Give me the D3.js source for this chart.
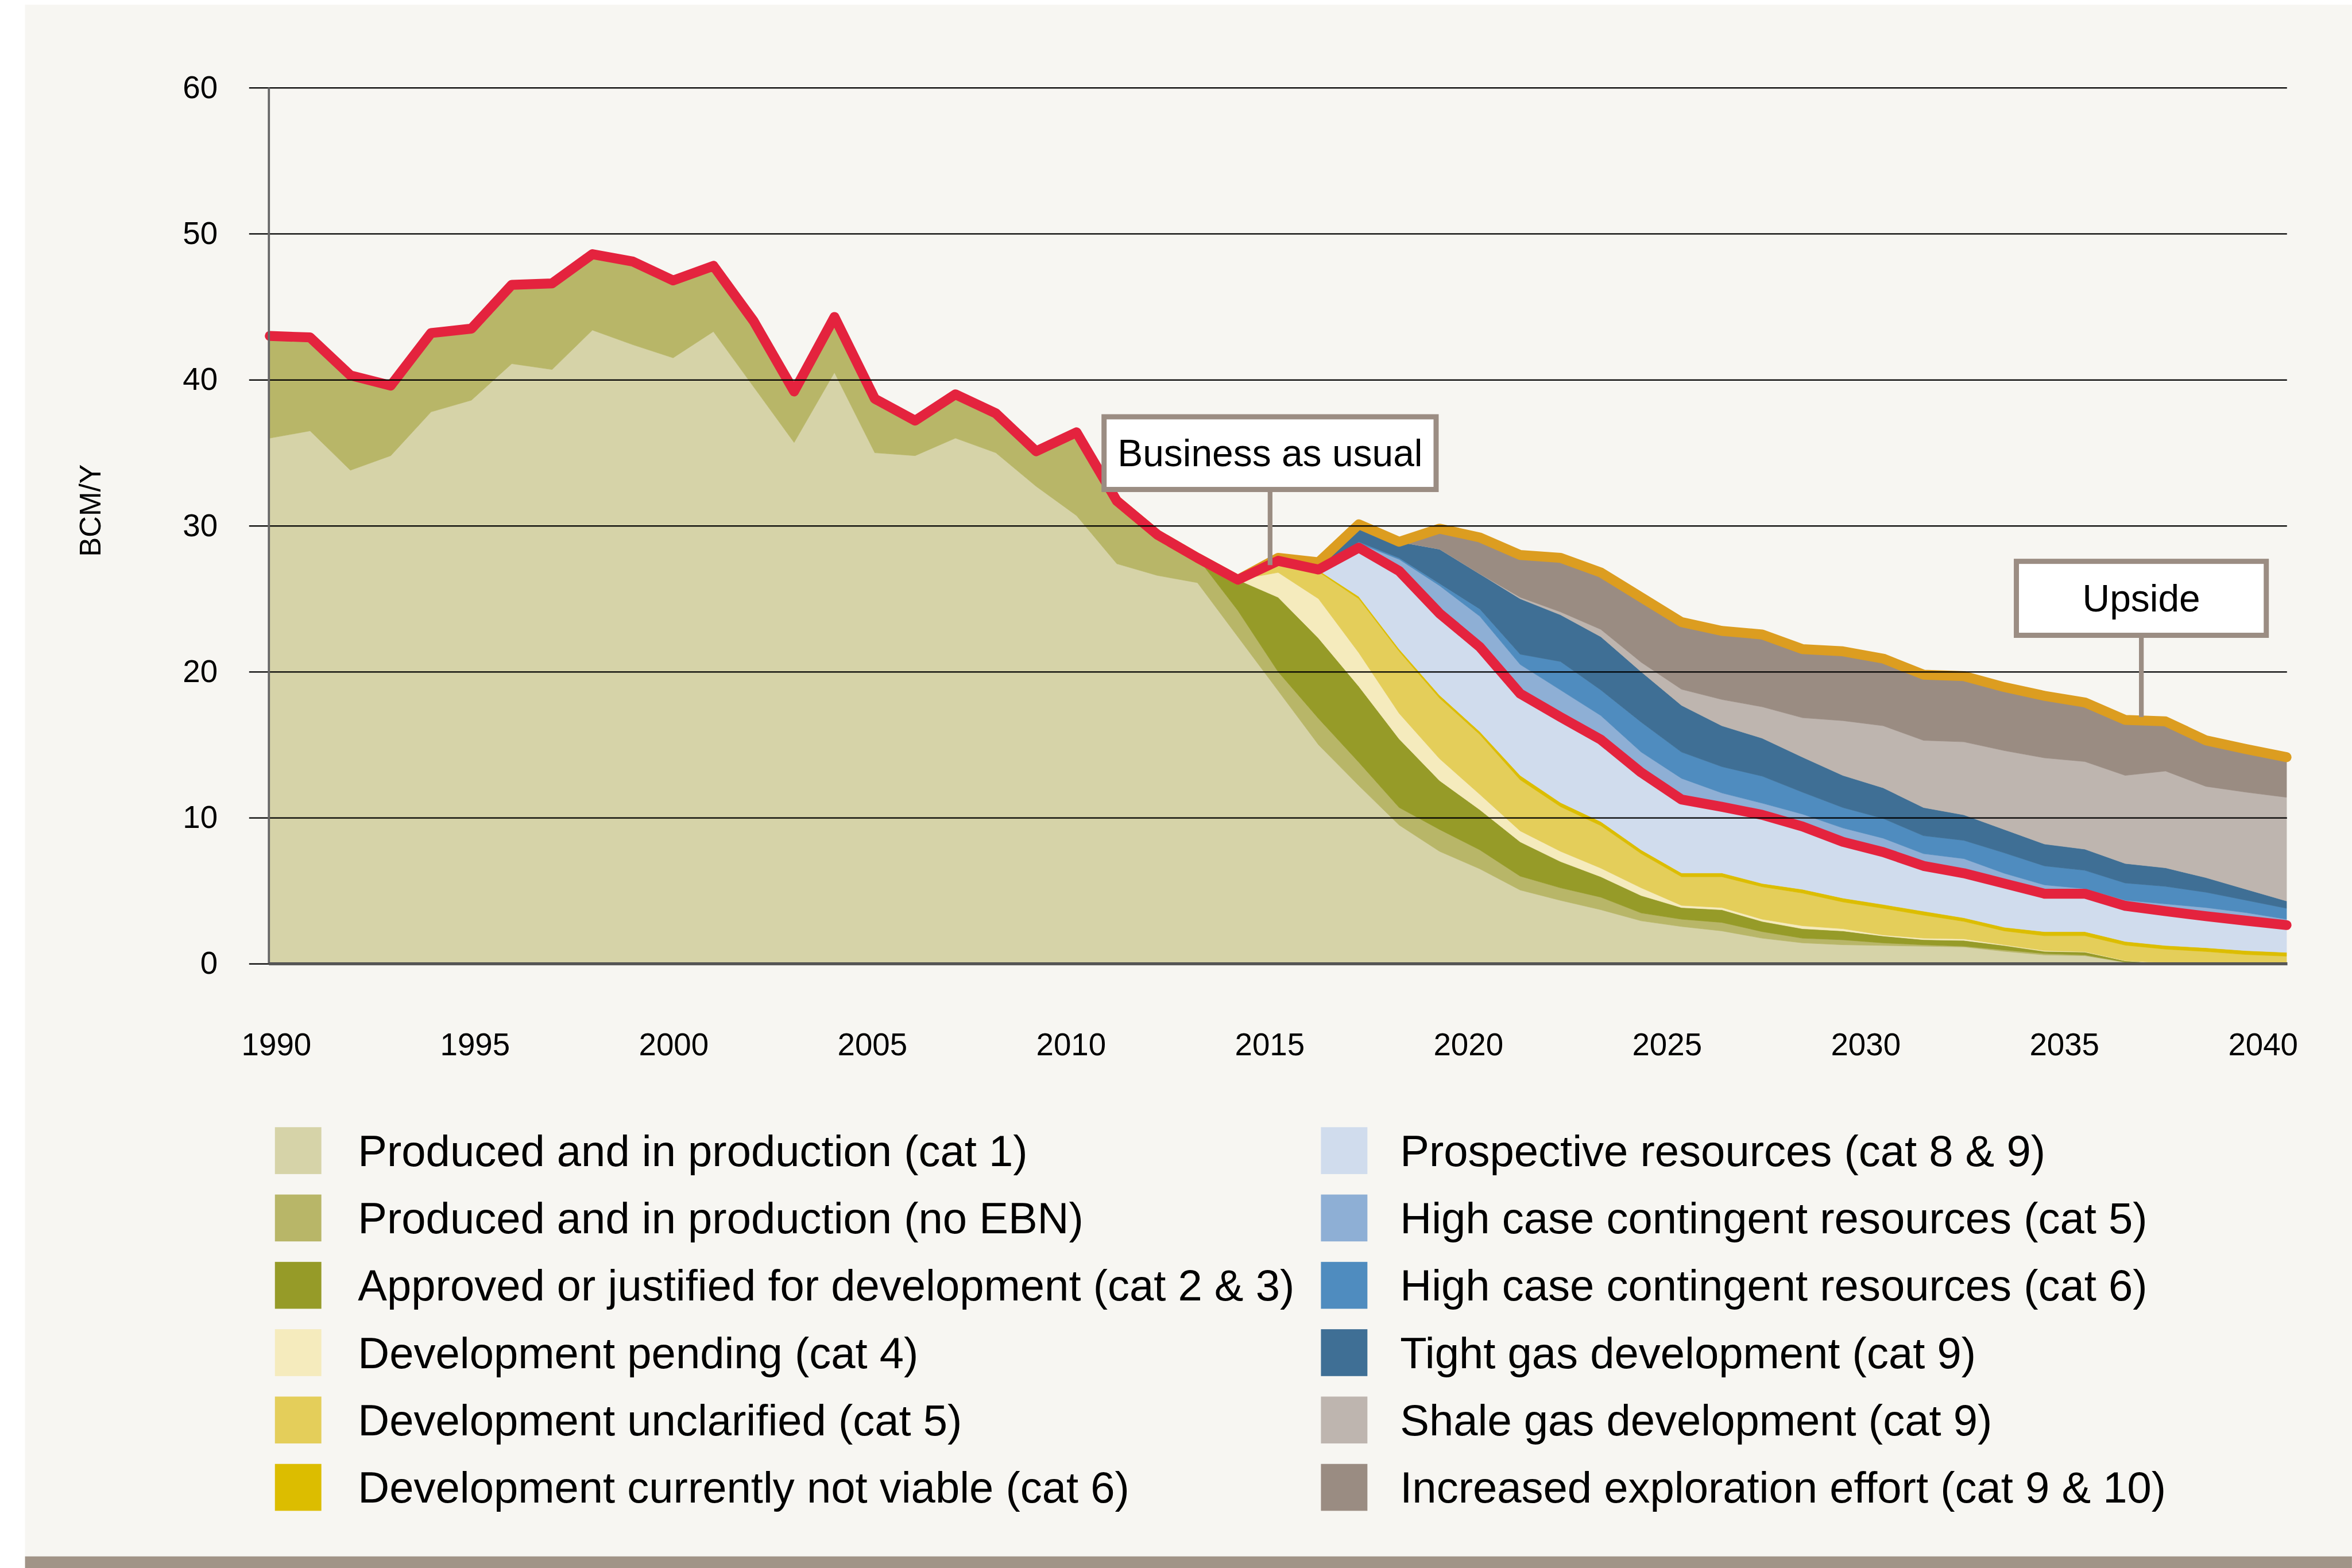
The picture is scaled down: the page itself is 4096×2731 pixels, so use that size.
<!DOCTYPE html>
<meta charset="utf-8">
<style>
body { margin: 0; background: #fff; }
svg { display: block; }
text { font-family: "Liberation Sans", Arial, Helvetica, sans-serif; fill: #000; }
.grid line { stroke: #000; stroke-width: 3px; }
.grid path, .axis--x path { display: none; }
.line { fill: none; stroke-linecap: round; stroke-linejoin: round; }
</style>
<svg width="4096" height="2731" viewBox="0 0 5468 3646"></svg>
<script src="https://d3js.org/d3.v7.min.js"></script>
<script>
// BCM/Y per year (one value per layer, stacked bottom to top)
var years = [1990,1991,1992,1993,1994,1995,1996,1997,1998,1999,
             2000,2001,2002,2003,2004,2005,2006,2007,2008,2009,
             2010,2011,2012,2013,2014,2015,2016,2017,2018,2019,
             2020,2021,2022,2023,2024,2025,2026,2027,2028,2029,
             2030,2031,2032,2033,2034,2035,2036,2037,2038,2039,2040];

var cat1 = [36.0,36.5,33.8,34.8,37.8,38.6,41.1,40.7,43.4,42.4,
            41.5,43.3,39.5,35.7,40.5,35.0,34.8,36.0,35.0,32.7,
            30.7,27.4,26.6,26.1,22.4,18.7,15.0,12.2,9.5,7.7,
            6.5,5.05,4.34,3.7,2.94,2.55,2.25,1.75,1.43,1.3,
            1.25,1.2,1.15,0.85,0.6,0.55,0.1,0,0,0,0];
var noEBN = [7.0,6.4,6.5,4.8,5.4,4.9,5.4,5.9,5.2,5.7,
             5.3,4.5,4.5,3.5,3.8,3.7,2.4,3.0,2.7,2.4,
             5.7,4.3,2.8,1.7,1.8,1.3,1.8,1.6,1.2,1.5,
             1.3,0.95,0.86,0.86,0.54,0.5,0.58,0.45,0.32,0.34,
             0.18,0.1,0.05,0.1,0.1,0.05,0.02,0,0,0,0];
var cat23 = [0,0,0,0,0,0,0,0,0,0,
             0,0,0,0,0,0,0,0,0,0,
             0,0,0,0,2.1,5.1,5.5,5.2,4.7,3.35,
             2.75,2.35,1.8,1.4,1.19,0.8,0.87,0.7,0.65,0.61,
             0.47,0.35,0.4,0.3,0.15,0.2,0.08,0.02,0,0,0];
var cat4 = [0,0,0,0,0,0,0,0,0,0,
            0,0,0,0,0,0,0,0,0,0,
            0,0,0,0,0,1.7,2.7,2.3,1.75,1.5,
            1.05,0.75,0.7,0.59,0.53,0.15,0.15,0.15,0.2,0.15,
            0.07,0.1,0.1,0.05,0.05,0.03,0.02,0.03,0.03,0.03,0.03];
var cat5 = [0,0,0,0,0,0,0,0,0,0,
            0,0,0,0,0,0,0,0,0,0,
            0,0,0,0,0,0.5,1.85,3.7,4.25,4.15,
            4.1,3.5,3.06,2.91,2.34,1.96,2.11,2.22,2.24,1.83,
            1.83,1.58,1.2,0.95,1.02,1.09,1.05,0.95,0.81,0.6,0.49];
var cat6 = [0,0,0,0,0,0,0,0,0,0,
            0,0,0,0,0,0,0,0,0,0,
            0,0,0,0,0,0.2,0.1,0.15,0.15,0.2,
            0.2,0.3,0.28,0.28,0.26,0.26,0.26,0.23,0.26,0.27,
            0.26,0.27,0.25,0.25,0.28,0.28,0.26,0.25,0.26,0.27,0.26];
var prosp = [0,0,0,0,0,0,0,0,0,0,
             0,0,0,0,0,0,0,0,0,0,
             0,0,0,0,0,0.1,0.05,3.35,5.35,5.6,
             5.8,5.6,5.86,5.61,5.3,5.03,4.53,4.7,4.3,3.85,
             3.59,3.1,3.05,3.0,2.6,2.6,2.44,2.35,2.16,2.05,1.87];
var high5 = [0,0,0,0,0,0,0,0,0,0,
             0,0,0,0,0,0,0,0,0,0,
             0,0,0,0,0,0,0.05,0.3,0.8,1.9,
             2.1,2.0,1.85,1.65,1.4,1.45,0.95,0.8,0.85,0.95,
             0.95,0.84,1.0,0.7,0.6,0.35,0.38,0.5,0.59,0.55,0.4];
var high6 = [0,0,0,0,0,0,0,0,0,0,
             0,0,0,0,0,0,0,0,0,0,
             0,0,0,0,0,0,0.05,0.1,0.1,0.15,
             0.5,0.7,1.95,1.75,2.05,1.8,1.8,1.85,1.5,1.4,
             1.35,1.23,1.25,1.4,1.3,1.25,1.18,1.2,1.05,0.85,0.75];
var tight = [0,0,0,0,0,0,0,0,0,0,
             0,0,0,0,0,0,0,0,0,0,
             0,0,0,0,0,0.1,0.3,1.1,1.1,2.35,
             2.4,3.8,3.2,3.65,3.45,3.2,2.8,2.6,2.4,2.2,
             2.1,1.93,1.75,1.6,1.5,1.45,1.34,1.27,1.0,0.75,0.5];
var shale = [0,0,0,0,0,0,0,0,0,0,
             0,0,0,0,0,0,0,0,0,0,
             0,0,0,0,0,0,0,0,0,0,
             0,0.1,0.2,0.5,0.65,1.1,1.8,2.15,2.7,3.75,
             4.25,4.6,5.0,5.4,5.9,6.0,6.03,6.63,6.25,6.65,7.1];
var explor = [0,0,0,0,0,0,0,0,0,0,
              0,0,0,0,0,0,0,0,0,0,
              0,0,0,0,0,0.1,0.1,0.1,0,1.4,
              2.5,2.9,3.7,3.9,4.45,4.6,4.7,4.95,4.7,4.75,
              4.6,4.5,4.5,4.35,4.25,4.05,3.8,3.4,3.15,2.95,2.75];

var keys = ["cat1","noEBN","cat23","cat4","cat5","cat6","prosp","high5","high6","tight","shale","explor"];
var labels = ["Produced and in production (cat 1)",
              "Produced and in production (no EBN)",
              "Approved or justified for development (cat 2 & 3)",
              "Development pending (cat 4)",
              "Development unclarified (cat 5)",
              "Development currently not viable (cat 6)",
              "Prospective resources (cat 8 & 9)",
              "High case contingent resources (cat 5)",
              "High case contingent resources (cat 6)",
              "Tight gas development (cat 9)",
              "Shale gas development (cat 9)",
              "Increased exploration effort (cat 9 & 10)"];
var yTicks = [0,10,20,30,40,50,60];
var xTicks = [1990,1995,2000,2005,2010,2015,2020,2025,2030,2035,2040];
var notes = [{text: "Business as usual", year: 2014.8, value: 27.3},
             {text: "Upside", year: 2036.4, value: 16.9}];

var colors = ["#d6d3a8","#b8b668","#969b28","#f5ebbd","#e4ce5a","#dcbd00",
              "#d0dced","#8eafd5","#4f8cbf","#3f6f95","#beb5af","#9a8c82"];

var series = {cat1: cat1, noEBN: noEBN, cat23: cat23, cat4: cat4, cat5: cat5, cat6: cat6,
              prosp: prosp, high5: high5, high6: high6, tight: tight, shale: shale, explor: explor};
var data = years.map(function(yr, i) {
  var row = {year: yr};
  keys.forEach(function(k) { row[k] = series[k][i]; });
  return row;
});

var svg = d3.select("svg");

// panel + bottom bar
svg.append("rect").attr("x", 58).attr("y", 11).attr("width", 5410).attr("height", 3608).attr("fill", "#f7f6f2");
svg.append("rect").attr("x", 58).attr("y", 3619).attr("width", 5410).attr("height", 27).attr("fill", "#a19487");

var x = d3.scaleLinear().domain([1990, 2040]).range([627, 5316]),
    xLabel = d3.scaleLinear().domain([1990, 2040]).range([642, 5261]),
    y = d3.scaleLinear().domain([0, 60]).range([2241, 204]),
    z = d3.scaleOrdinal().domain(keys).range(colors);

var stacked = d3.stack().keys(keys)(data);

var area = d3.area()
    .x(function(d) { return x(d.data.year); })
    .y0(function(d) { return y(d[0]); })
    .y1(function(d) { return y(d[1]); });

svg.append("g").selectAll("path")
  .data(stacked)
  .enter().append("path")
    .attr("d", area)
    .attr("fill", function(d) { return z(d.key); })
    .attr("stroke", function(d) { return z(d.key); })
    .attr("stroke-width", 1);

var line = d3.line()
    .x(function(d) { return x(d.data.year); })
    .y(function(d) { return y(d[1]); });

// upside (total) and business as usual (through prospective resources)
var total = stacked[stacked.length - 1].filter(function(d) { return d.data.year >= 2011; });
svg.append("path").attr("class", "line")
    .attr("d", line(total))
    .attr("stroke", "#dc9d20").attr("stroke-width", 23);

svg.append("path").attr("class", "line")
    .attr("d", line(stacked[6]))
    .attr("stroke", "#e4233e").attr("stroke-width", 23);

// gridlines + y labels
var grid = svg.append("g")
    .attr("class", "grid")
    .attr("transform", "translate(579,0)")
    .call(d3.axisLeft(y).tickValues(yTicks).tickSize(-(5317 - 579)).tickPadding(73));
grid.attr("font-size", 73).attr("font-family", null);
grid.selectAll("text").attr("dy", "0.32em");

// axis lines
svg.append("line")
    .attr("x1", x(1990) - 2).attr("x2", x(1990) - 2)
    .attr("y1", y(60)).attr("y2", y(0))
    .attr("stroke", "#666").attr("stroke-width", 5);
svg.append("line")
    .attr("x1", x(1990) - 2).attr("x2", x(2040) + 2)
    .attr("y1", y(0)).attr("y2", y(0))
    .attr("stroke", "#555").attr("stroke-width", 7);

// x labels
var xAxis = svg.append("g")
    .attr("class", "axis axis--x")
    .attr("transform", "translate(0," + y(0) + ")")
    .call(d3.axisBottom(xLabel).tickValues(xTicks).tickFormat(d3.format("d")).tickSize(0).tickPadding(161));
xAxis.attr("font-size", 73).attr("font-family", null);

svg.append("text")
    .attr("transform", "translate(209,1187) rotate(-90)")
    .attr("text-anchor", "middle")
    .attr("dy", "0.35em")
    .attr("font-size", 68)
    .text("BCM/Y");

// annotations
var boxSize = {"Business as usual": [784, 181, 170], "Upside": [593, 184, 184]};
notes.forEach(function(n) {
  var s = boxSize[n.text],
      cx = x(n.year),
      bottom = y(n.value),
      top = bottom - s[2] - s[1];
  svg.append("line")
      .attr("x1", cx).attr("x2", cx)
      .attr("y1", top + s[1]).attr("y2", bottom)
      .attr("stroke", "#9b8d83").attr("stroke-width", 11);
  svg.append("rect")
      .attr("x", cx - s[0] / 2 + 6).attr("y", top + 6)
      .attr("width", s[0] - 12).attr("height", s[1] - 12)
      .attr("fill", "#fff").attr("stroke", "#9b8d83").attr("stroke-width", 12);
  svg.append("text")
      .attr("x", cx).attr("y", top + s[1] / 2)
      .attr("dy", "0.35em")
      .attr("text-anchor", "middle")
      .attr("font-size", 88)
      .text(n.text);
});

// legend, two columns of six
var cols = [{x: 639, tx: 832}, {x: 3071, tx: 3255}];
var legend = svg.append("g").selectAll("g")
  .data(keys)
  .enter().append("g")
    .attr("transform", function(d, i) {
      var c = cols[Math.floor(i / 6)];
      return "translate(" + c.x + "," + (2621 + (i % 6) * 156.6) + ")";
    });

legend.append("rect")
    .attr("width", 108).attr("height", 109)
    .attr("fill", function(d) { return z(d); });

legend.append("text")
    .attr("x", function(d, i) { var c = cols[Math.floor(i / 6)]; return c.tx - c.x; })
    .attr("y", 54.5)
    .attr("dy", "0.35em")
    .attr("font-size", 101.5)
    .text(function(d, i) { return labels[i]; });
</script>
